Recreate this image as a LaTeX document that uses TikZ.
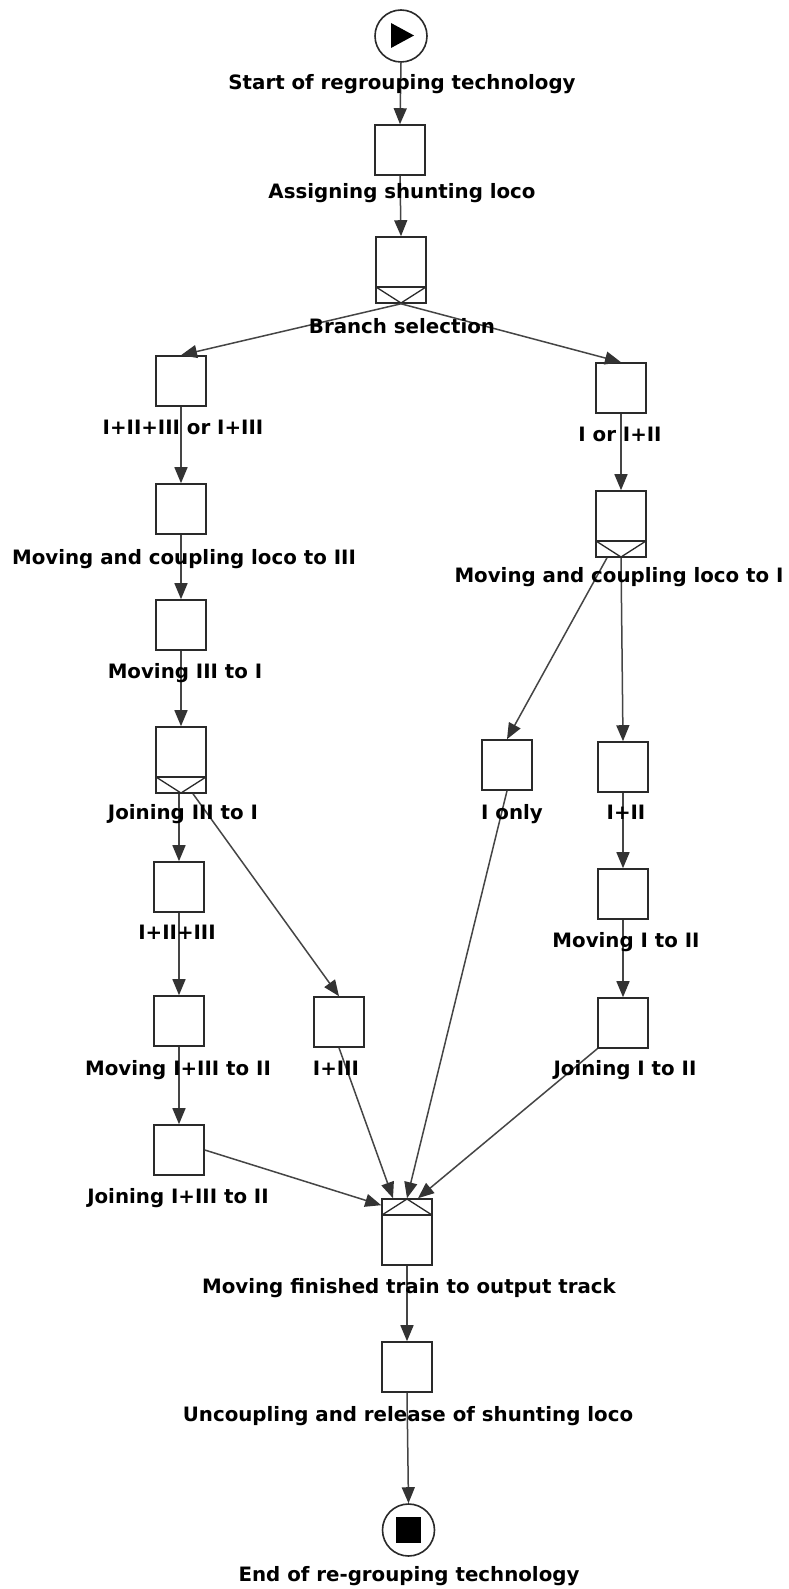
\documentclass[tikz,border=0pt]{standalone}
\usepackage{fontspec}
\setmainfont{DejaVu Sans}
\usetikzlibrary{arrows.meta,calc}
\definecolor{boxc}{HTML}{2A2A2A}
\definecolor{arcc}{HTML}{454545}
\definecolor{tipc}{HTML}{333333}
\begin{document}
\begin{tikzpicture}[x=1pt,y=-1pt,
  task/.style={draw=boxc, line width=1.6pt, fill=white, minimum width=50pt,
    minimum height=50pt, inner sep=0pt},
  splitbox/.style={task, minimum height=66pt,
    path picture={
      \draw[boxc, line width=1.3pt]
        ([yshift=16pt]path picture bounding box.south west) --
        ([yshift=16pt]path picture bounding box.south east);
      \draw[boxc, line width=1.3pt]
        ([yshift=16pt]path picture bounding box.south west) --
        (path picture bounding box.south) --
        ([yshift=16pt]path picture bounding box.south east);}},
  joinbox/.style={task, minimum height=66pt,
    path picture={
      \draw[boxc, line width=1.3pt]
        ([yshift=-16pt]path picture bounding box.north west) --
        ([yshift=-16pt]path picture bounding box.north east);
      \draw[boxc, line width=1.3pt]
        ([yshift=-16pt]path picture bounding box.north west) --
        (path picture bounding box.north) --
        ([yshift=-16pt]path picture bounding box.north east);}},
  event/.style={circle, draw=boxc, line width=1.6pt, fill=white,
    minimum size=52pt, inner sep=0pt},
  lbl/.style={font=\bfseries\fontsize{19.8}{22}\selectfont, anchor=mid,
    inner sep=0pt, text=black},
  arc/.style={draw=arcc, line width=1.5pt,
    -{Triangle[length=16pt,width=13pt,color=tipc]}}
]
\useasboundingbox[fill=white] (0,0) rectangle (788,1589);

% events
\node[event] (start) at (401,36) {};
\fill (391,23) -- (391,48) -- (414,35.5) -- cycle;
\node[event] (end) at (408.5,1530) {};
\fill (396,1517) rectangle (421,1543);

% transitions
\node[task] (asn) at (400,150) {};
\node[splitbox] (bsel) at (401,270) {};
\node[task] (L1) at (181,381) {};
\node[task] (R1) at (621,388) {};
\node[task] (mc3) at (181,509) {};
\node[task] (m3to1) at (181,625) {};
\node[splitbox] (j3to1) at (181,760) {};
\node[task] (i123) at (179,887) {};
\node[task] (m13to2) at (179,1021) {};
\node[task] (j13to2) at (179,1150) {};
\node[task] (i13) at (339,1022) {};
\node[splitbox] (mc1) at (621,524) {};
\node[task] (ionly) at (507,765) {};
\node[task] (i12) at (623,767) {};
\node[task] (m1to2) at (623,894) {};
\node[task] (j1to2) at (623,1023) {};
\node[joinbox] (mft) at (407,1232) {};
\node[task] (unc) at (407,1367) {};

% arcs
\draw[arc] (start.south) -- (asn.north);
\draw[arc] (asn.south) -- (bsel.north);
\draw[arc] (bsel.south) -- (L1.north);
\draw[arc] (bsel.south) -- (R1.north);
\draw[arc] (L1.south) -- (mc3.north);
\draw[arc] (mc3.south) -- (m3to1.north);
\draw[arc] (m3to1.south) -- (j3to1.north);
\draw[arc] (j3to1.south -| i123.north) -- (i123.north);
\draw[arc] ([xshift=12pt]j3to1.south) -- (i13.north);
\draw[arc] (i123.south) -- (m13to2.north);
\draw[arc] (m13to2.south) -- (j13to2.north);
\draw[arc] (R1.south) -- (mc1.north);
\draw[arc] ([xshift=-14pt]mc1.south) -- (ionly.north);
\draw[arc] (mc1.south) -- (i12.north);
\draw[arc] (i12.south) -- (m1to2.north);
\draw[arc] (m1to2.south) -- (j1to2.north);
\draw[arc] (j13to2.east) -- ([yshift=-7pt]mft.north west);
\draw[arc] (i13.south) -- ([xshift=-14pt]mft.north);
\draw[arc] (ionly.south) -- (mft.north);
\draw[arc] (j1to2.south west) -- ([xshift=11pt]mft.north);
\draw[arc] (mft.south) -- (unc.north);
\draw[arc] (unc.south) -- (end.north);

% labels
\node[lbl] (t-start) at (402,87) {Start of regrouping technology};
\node[lbl] (t-asn) at (402,196) {Assigning shunting loco};
\node[lbl] (t-bsel) at (402,331) {Branch selection};
\node[lbl] (t-L1) at (183,432) {I+II+III or I+III};
\node[lbl] (t-R1) at (620,439) {I or I+II};
\node[lbl] (t-mc3) at (184,562) {Moving and coupling loco to III};
\node[lbl] (t-mc1) at (619,580) {Moving and coupling loco to I};
\node[lbl] (t-m3to1) at (185,676) {Moving III to I};
\node[lbl] (t-j3to1) at (183,817) {Joining III to I};
\node[lbl] (t-ionly) at (512,817) {I only};
\node[lbl] (t-i12) at (626,817) {I+II};
\node[lbl] (t-i123) at (177,937) {I+II+III};
\node[lbl] (t-m1to2) at (626,945) {Moving I to II};
\node[lbl] (t-m13to2) at (178,1073) {Moving I+III to II};
\node[lbl] (t-i13) at (336,1073) {I+III};
\node[lbl] (t-j1to2) at (625,1073) {Joining I to II};
\node[lbl] (t-j13to2) at (178,1201) {Joining I+III to II};
\node[lbl] (t-mft) at (409,1291) {Moving finished train to output track};
\node[lbl] (t-unc) at (408,1419) {Uncoupling and release of shunting loco};
\node[lbl] (t-end) at (409,1579) {End of re-grouping technology};
\end{tikzpicture}
\end{document}
